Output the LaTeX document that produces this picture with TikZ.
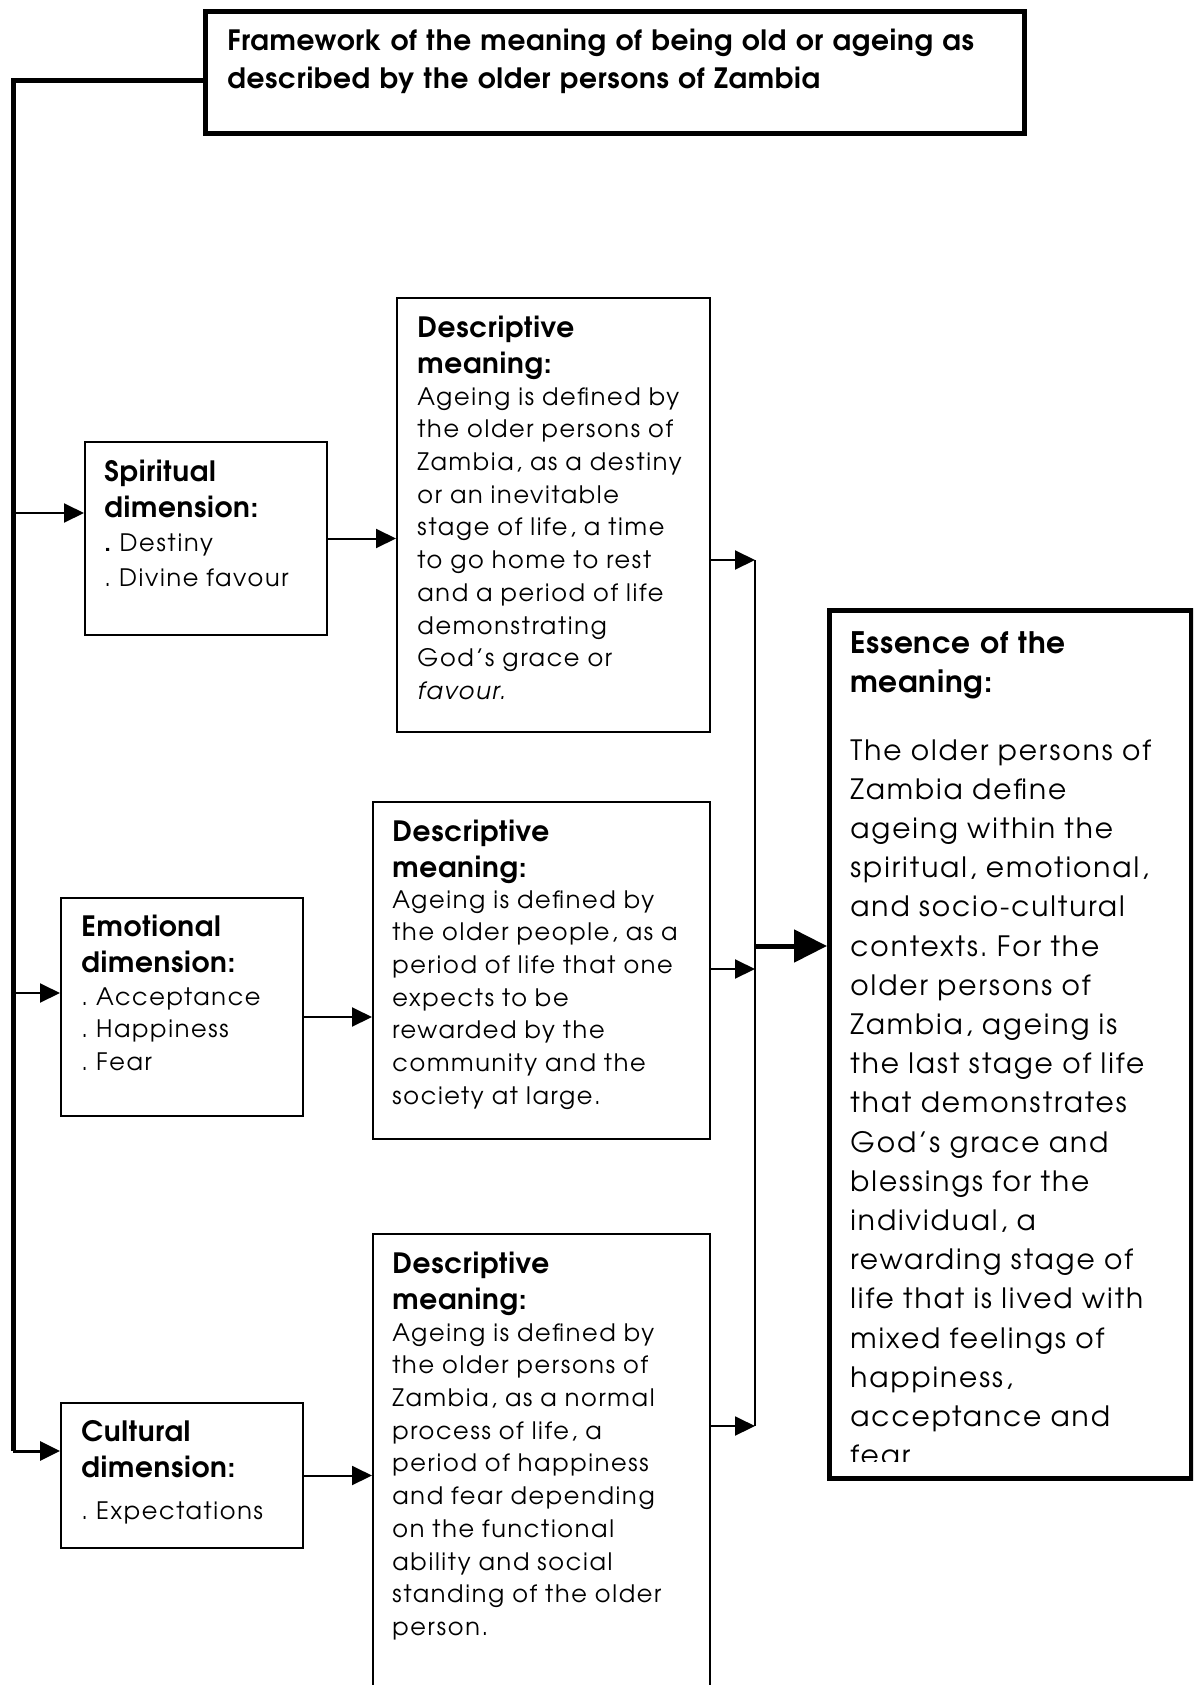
\documentclass[tikz,border=0pt]{standalone}
\usepackage{fontspec}
\setmainfont{TeX Gyre Adventor}[UprightFeatures={LetterSpace=7}, ItalicFeatures={LetterSpace=7}, BoldFeatures={LetterSpace=2.5}]
\usetikzlibrary{arrows.meta}
\tikzset{
  box/.style={draw, line width=1pt, inner sep=0pt, anchor=north west},
  bigbox/.style={draw, line width=2.5pt, inner sep=0pt, anchor=north west},
  txt/.style={anchor=base west, inner sep=0pt, text width=220pt, align=left},
  head/.style={txt, font={\frenchspacing\bfseries\fontsize{14pt}{18.3pt}\selectfont}},
  body/.style={txt, font={\frenchspacing\fontsize{12pt}{16.36pt}\selectfont}},
  arr/.style={line width=1pt, -{Triangle[length=10pt,width=9.5pt]}},
  bus/.style={line width=2.5pt},
  bigarr/.style={line width=2.5pt, -{Triangle[length=16.5pt,width=16pt]}},
}
\begin{document}
\begin{tikzpicture}[x=0.5pt,y=-0.5pt]
\clip (0,0) rectangle (1193,1685);
\fill[white] (0,0) rectangle (1193,1685);

% boxes
\node[bigbox, minimum width=409.5pt, minimum height=61pt] (title) at (203,9) {};
\node[box, minimum width=121pt, minimum height=96.5pt] (sp) at (84,441) {};
\node[box, minimum width=156.5pt, minimum height=217pt] (d1) at (396,297) {};
\node[box, minimum width=121pt, minimum height=109pt] (em) at (60,897) {};
\node[box, minimum width=168.5pt, minimum height=168.5pt] (d2) at (372,801) {};
\node[box, minimum width=121pt, minimum height=72.5pt] (cu) at (60,1402) {};
\node[box, minimum width=168.5pt, minimum height=240pt] (d3) at (372,1233) {};
\node[bigbox, minimum width=181pt, minimum height=434pt] (es) at (827,608) {};

% texts
\node[txt, font={\frenchspacing\bfseries\fontsize{14pt}{18.8pt}\selectfont}, text width=440pt] (ttitle) at (227,51)
  {Framework of the meaning of being old or ageing as\\described by the older persons of Zambia};

\node[head] (tsph) at (104,481) {Spiritual\\dimension:};
\node[body, font={\frenchspacing\fontsize{12pt}{17.75pt}\selectfont}] (tspb) at (104,551) {\textbf{.} Destiny\\. Divine favour};

\node[head] (temh) at (81,936) {Emotional\\dimension:};
\node[body, font={\frenchspacing\fontsize{12pt}{16.4pt}\selectfont}] (temb) at (81,1005) {. Acceptance\\. Happiness\\. Fear};

\node[head] (tcuh) at (81,1441) {Cultural\\dimension:};
\node[body] (tcub) at (81,1519) {. Expectations};

\node[head] (td1h) at (417,337) {Descriptive\\meaning:};
\node[body] (td1b) at (417,405) {Ageing is defined by\\the older persons of\\Zambia, as a destiny\\or an inevitable\\stage of life, a time\\to go home to rest\\and a period of life\\demonstrating\\God’s grace or\\\textit{favour.}};

\node[head] (td2h) at (392,841) {Descriptive\\meaning:};
\node[body] (td2b) at (392,908) {Ageing is defined by\\the older people, as a\\period of life that one\\expects to be\\rewarded by the\\community and the\\society at large.};

\node[head] (td3h) at (392,1273) {Descriptive\\meaning:};
\node[body] (td3b) at (392,1341) {Ageing is defined by\\the older persons of\\Zambia, as a normal\\process of life, a\\period of happiness\\and fear depending\\on the functional\\ability and social\\standing of the older\\person.};

\node[head, font={\frenchspacing\bfseries\fontsize{14.8pt}{19.9pt}\selectfont}] (tesh) at (850,653) {Essence of the\\meaning:};
\begin{scope}
\clip (827,608) rectangle (1189,1461);
\node[body, font={\frenchspacing\fontsize{14pt}{19.6pt}\selectfont}] (tesb) at (850,760) {The older persons of\\Zambia define\\ageing within the\\spiritual, emotional,\\and socio-cultural\\contexts. For the\\older persons of\\Zambia, ageing is\\the last stage of life\\that demonstrates\\God’s grace and\\blessings for the\\individual, a\\rewarding stage of\\life that is lived with\\mixed feelings of\\happiness,\\acceptance and\\fear};
\end{scope}

% connectors
\coordinate (bt) at (13,81);
\coordinate (bb) at (13,1451);
\coordinate (b1) at (13,513);
\coordinate (b2) at (13,993);
\draw[bus, line join=miter] (title.west |- bt) -- (bt) -- (bb);
\draw[arr] (b1) -- (b1 -| sp.west);
\draw[arr] (b2) -- (b2 -| em.west);
\draw[arr, line width=1.5pt] (bb) -- (bb -| cu.west);

\coordinate (e2) at (302,1017);
\draw[arr] (sp.east) -- (sp.east -| d1.west);
\draw[arr] (e2 -| em.east) -- (e2 -| d2.west);
\draw[arr] (cu.east) -- (cu.east -| d3.west);

\coordinate (m1) at (755,560);
\coordinate (m2) at (755,969);
\coordinate (m3) at (755,1426);
\coordinate (mc) at (755,946);
\draw[arr] (m1 -| d1.east) -- (m1);
\draw[arr] (m2 -| d2.east) -- (m2);
\draw[arr] (m3 -| d3.east) -- (m3);
\draw[line width=1pt] (m1) -- (m3);
\draw[bigarr] (mc) -- (mc -| es.west);
\end{tikzpicture}
\end{document}
